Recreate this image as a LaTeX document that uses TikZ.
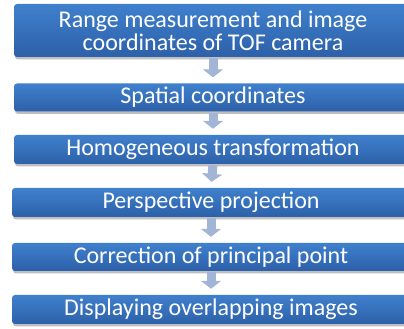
\documentclass[tikz,border=0pt]{standalone}
\usepackage{fontspec}
\setmainfont{Carlito}
\usetikzlibrary{arrows.meta,shadows}
\definecolor{boxtop}{HTML}{3F80CD}
\definecolor{boxbot}{HTML}{2D60A9}
\definecolor{arr}{HTML}{A2B5D6}
\begin{document}
\begin{tikzpicture}[x=1pt,y=1pt,
  stepbox/.style={rounded corners=3pt, top color=boxtop, bottom color=boxbot, draw=none,
    text=white, font=\fontsize{24}{23}\selectfont, align=center, minimum width=398pt,
    inner sep=0pt, drop shadow={shadow xshift=1pt, shadow yshift=-2.5pt, fill=black, opacity=0.25}},
  flow/.style={line width=9pt, draw=arr, -{Triangle[width=20pt,length=8pt]}, shorten <=1pt, shorten >=6pt}]
\clip (0,0) rectangle (404,329);
\useasboundingbox (0,0) rectangle (404,329);
\node[stepbox, minimum height=53pt] (b1) at (213,298.5) {Range measurement and image\\coordinates of TOF camera};
\node[stepbox, minimum height=28pt] (b2) at (213,231.5) {Spatial coordinates};
\node[stepbox, minimum height=29pt] (b3) at (213,179.5) {Homogeneous transformation};
\node[stepbox, minimum height=29pt] (b4) at (211,126.5) {Perspective projection};
\node[stepbox, minimum height=28pt] (b5) at (211,72) {Correction of principal point};
\node[stepbox, minimum height=29pt] (b6) at (211,19.5) {Displaying overlapping images};
\draw[flow] (b1.south) -- (b2.north);
\draw[flow] (b2.south) -- (b3.north);
\draw[flow] (b3.south) -- (b4.north);
\draw[flow] (b4.south) -- (b5.north);
\draw[flow] (b5.south) -- (b6.north);
\end{tikzpicture}
\end{document}
